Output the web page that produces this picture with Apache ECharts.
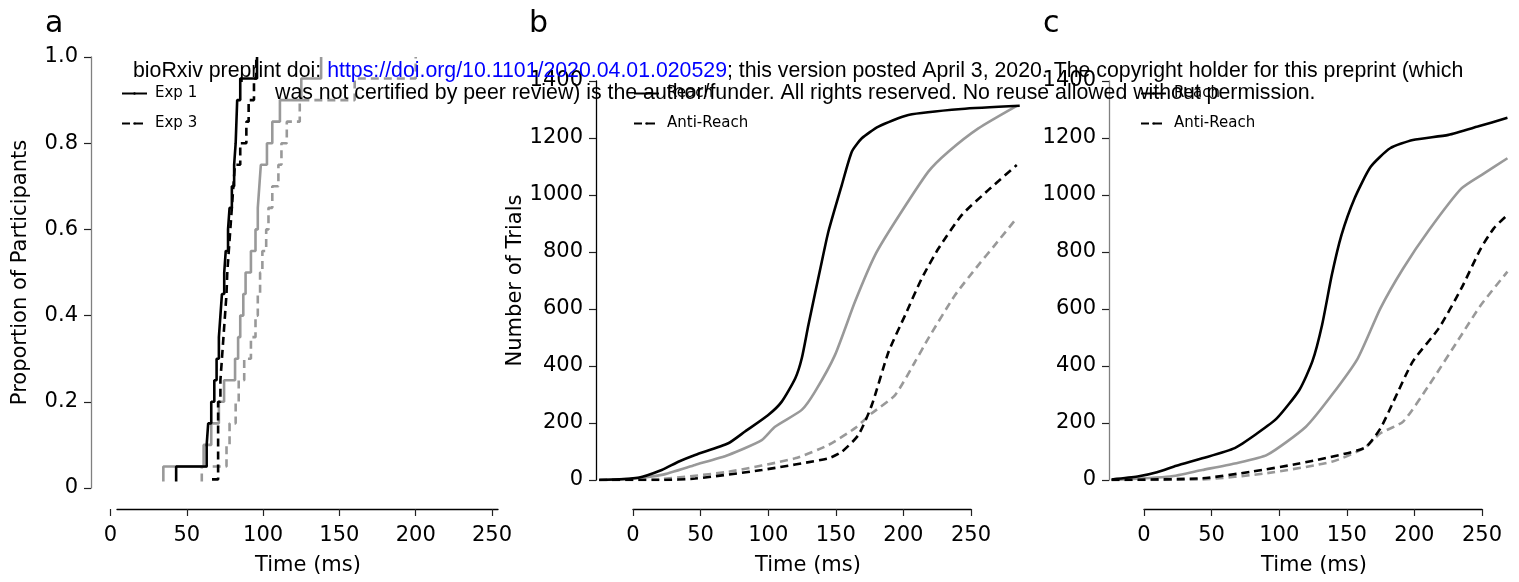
<!DOCTYPE html>
<html>
<head>
<meta charset="utf-8">
<script src="https://cdn.jsdelivr.net/npm/echarts@6.0.0/dist/echarts.min.js"></script>
<style>
html, body { margin: 0; padding: 0; background: #fff; }
#main { width: 1519px; height: 582px; }
</style>
</head>
<body>
<div id="main"></div>
<script>
// panel a: proportion of participants, [time (ms), proportion]
var exp1Black = [[43, 0.015], [43, 0.05], [63, 0.10], [64, 0.15], [66, 0.20], [68, 0.25], [69.5, 0.30], [71, 0.35], [72, 0.40], [73, 0.45], [74.5, 0.50], [75.5, 0.55], [77, 0.60], [78, 0.65], [79.5, 0.70], [81, 0.75], [82, 0.80], [82.5, 0.85], [83, 0.90], [85, 0.95], [96, 1.0]]
var exp3Black = [[66.5, 0.02], [70.5, 0.05], [70.5, 0.20], [72, 0.25], [73, 0.30], [74, 0.35], [75, 0.40], [76, 0.45], [76.5, 0.50], [77.5, 0.55], [78.5, 0.60], [79.5, 0.65], [80.5, 0.70], [81.5, 0.75], [85, 0.80], [89, 0.85], [90.5, 0.90], [94, 0.95], [95.5, 1.0]]
var exp1Gray = [[34.6, 0.015], [34.6, 0.05], [61, 0.10], [66, 0.15], [71, 0.20], [74.4, 0.25], [81.6, 0.30], [83.6, 0.35], [85, 0.40], [87, 0.45], [88.5, 0.50], [92, 0.55], [95, 0.60], [96.5, 0.65], [97.5, 0.70], [98.5, 0.75], [102.5, 0.80], [106, 0.85], [111, 0.90], [125, 0.95], [138, 1.0]]
var exp3Gray = [[59.8, 0.015], [59.8, 0.05], [76, 0.10], [78, 0.15], [82, 0.20], [84, 0.25], [87.6, 0.30], [92, 0.35], [95, 0.40], [96.5, 0.45], [98, 0.50], [99.5, 0.55], [102, 0.60], [103.5, 0.65], [106, 0.70], [110, 0.75], [112, 0.80], [115.5, 0.85], [124, 0.90], [160, 0.95], [200, 1.0]]

// panel b: number of trials, [time (ms), trials]
var bReachBlack = [[-25, 0], [3.9, 8], [21.2, 35], [33.5, 64], [45.9, 88], [70.5, 129], [82.8, 170], [100, 228], [110, 275], [120, 357], [124.8, 427], [129.7, 544], [139.6, 766], [144.5, 872], [154.4, 1035], [161.8, 1152], [169.2, 1199], [181.5, 1240], [203.6, 1281], [243, 1302], [286, 1313]]
var bReachGray = [[-25, 0], [-3.5, 4], [21.2, 18], [45.9, 53], [70.5, 88], [95.2, 140], [105, 187], [124.8, 246], [134.6, 310], [149.4, 439], [164.2, 626], [179, 789], [193.8, 906], [218.4, 1082], [233.2, 1152], [255.4, 1234], [283.8, 1313]]
var bAntiBlack = [[-25, 0], [21.2, 0], [45.9, 5], [95.2, 35], [144.5, 76], [154.4, 99], [166.7, 158], [176.6, 263], [189, 450], [201.3, 579], [213.6, 708], [226, 813], [243.2, 930], [262.9, 1018], [283.8, 1105]]
var bAntiGray = [[-25, 0], [21.2, 4], [70.5, 29], [119.8, 76], [144.5, 123], [164.2, 182], [176.6, 234], [193.8, 298], [208.6, 415], [218.4, 497], [238.2, 649], [255.4, 754], [267.7, 825], [283.8, 919]]

// panel c
var cReachBlack = [[-23.9, 2], [-4.2, 12], [10.6, 27], [25.4, 50], [45.1, 76], [69.8, 112], [87, 164], [101.8, 216], [119, 316], [128.9, 416], [136.3, 544], [143.7, 719], [151.1, 860], [161, 988], [173.3, 1099], [188.1, 1164], [205.4, 1193], [232.5, 1211], [254.7, 1240], [277.4, 1271]]
var cReachGray = [[-23.9, 0], [20.5, 12], [45.1, 35], [69.8, 58], [94.4, 88], [124, 187], [143.7, 298], [163.5, 427], [180.7, 602], [198, 742], [217.7, 877], [242.4, 1023], [259.6, 1076], [277.4, 1129]]
var cAntiBlack = [[-23.9, 0], [45.1, 6], [82.1, 29], [119, 58], [168.4, 112], [180.7, 181], [190.6, 275], [205.4, 416], [225.1, 532], [242.4, 673], [257.2, 813], [267, 883], [277.4, 930]]
var cAntiGray = [[-23.9, 0], [45.1, 2], [94.4, 24], [143.7, 64], [168.4, 112], [180.7, 164], [198, 205], [217.7, 333], [242.4, 509], [257.2, 614], [277.4, 731]]

var timeTicks = [0, 50, 100, 150, 200, 250]

var FONT = 'DejaVu Sans'
var GRAY = '#999999'
// legend icons: solid bar and "- -"
var SOLID_ICON = 'path://M0,0h25v3h-25z'
var DASH_ICON = 'path://M0,0h8v3h-8z M16,0h9v3h-9z'

var myChart = echarts.init(document.getElementById('main'))

function yAxisOf(grid, max, interval, lineColor, name, gap, fmt) {
  return {
    gridIndex: grid, type: 'value', min: 0, max: max, interval: interval,
    name: name, nameLocation: 'middle', nameGap: gap,
    nameTextStyle: { fontFamily: FONT, fontSize: 21, color: '#000' },
    axisLine: { show: true, onZero: false, lineStyle: { color: lineColor, width: 1.3 } },
    axisTick: { show: true, length: 7, lineStyle: { color: '#222', width: 1.2 } },
    axisLabel: { fontFamily: FONT, fontSize: 21, color: '#000', margin: 13, formatter: fmt },
    splitLine: { show: false }
  }
}
function hiddenY(grid) {
  return { gridIndex: grid, type: 'value', show: false }
}
// x axis of a data grid: only carries the axis title
function dataX(grid, min, max, gap) {
  return {
    gridIndex: grid, type: 'value', min: min, max: max,
    name: 'Time (ms)', nameLocation: 'middle', nameGap: gap,
    nameTextStyle: { fontFamily: FONT, fontSize: 21, color: '#000' },
    axisLine: { show: false, onZero: false }, axisTick: { show: false }, axisLabel: { show: false }, splitLine: { show: false }
  }
}
// offset x axis with ticks 0..250
function tickX(grid, showLine) {
  return {
    gridIndex: grid, type: 'value', min: 0, max: 250, interval: 50,
    axisLine: { show: showLine, onZero: false, lineStyle: { color: '#000', width: 1.3 } },
    axisTick: { show: true, length: 7, lineStyle: { color: '#222', width: 1.2 } },
    axisLabel: { fontFamily: FONT, fontSize: 21, color: '#000', margin: 16,
      formatter: function (v) { return timeTicks.indexOf(v) >= 0 ? String(v) : '' } },
    splitLine: { show: false }
  }
}
function lineOnlyX(grid) {
  return {
    gridIndex: grid, type: 'value', min: 0, max: 1,
    axisLine: { show: true, onZero: false, lineStyle: { color: '#000', width: 1.3 } },
    axisTick: { show: false }, axisLabel: { show: false }, splitLine: { show: false }
  }
}
function line(name, grid, data, color, dashed, step) {
  return {
    name: name, type: 'line', xAxisIndex: grid, yAxisIndex: grid, data: data,
    symbol: 'none', step: step ? 'end' : false, smooth: step ? false : 0.2,
    legendIcon: dashed ? DASH_ICON : SOLID_ICON,
    lineStyle: { color: color, width: 2.6, type: dashed ? [8, 5] : 'solid' },
    itemStyle: { color: color }
  }
}
function legendAt(left, names) {
  return {
    data: names, left: left, top: 81, orient: 'vertical', itemWidth: 25, itemHeight: 3,
    itemGap: 15, selectedMode: false,
    textStyle: { fontFamily: FONT, fontSize: 15, color: '#000', padding: [0, 0, 0, 3] }
  }
}
function label(text, left) {
  return { text: text, left: left, top: 9, padding: 0,
    textStyle: { fontFamily: FONT, fontSize: 30, fontWeight: 'normal', color: '#000', lineHeight: 30 } }
}

var wmStyle = { fontFamily: 'Liberation Sans', fontSize: 21.3, fontWeight: 'normal', color: '#000', lineHeight: 21 }

myChart.setOption({
  animation: false,
  title: [
    label('a', 45), label('b', 529), label('c', 1043),
    {
      text: '{k|bioRxiv preprint doi: }{u|https://doi.org/10.1101/2020.04.01.020529}{k|; this version posted April 3, 2020. The copyright holder for this preprint (which}',
      left: 133, top: 61, padding: 0, z: 10,
      textStyle: { rich: { k: wmStyle, u: Object.assign({}, wmStyle, { color: '#0000ff' }) } }
    },
    {
      text: 'was not certified by peer review) is the author/funder. All rights reserved. No reuse allowed without permission.',
      left: 275, top: 83, padding: 0, z: 10, textStyle: wmStyle
    }
  ],
  legend: [
    legendAt(116, ['Exp 1', 'Exp 3']),
    legendAt(628, ['Reach', 'Anti-Reach']),
    legendAt(1135, ['Reach', 'Anti-Reach'])
  ],
  grid: [
    { left: 91, top: 57, width: 434, height: 431 },
    { left: 110.5, top: 508, width: 381.5, height: 1 },
    { left: 117, top: 508, width: 381, height: 1 },
    { left: 596, top: 81, width: 424, height: 399 },
    { left: 633, top: 508, width: 338, height: 1 },
    { left: 1109, top: 81, width: 422, height: 399 },
    { left: 1144, top: 508, width: 338, height: 1 }
  ],
  xAxis: [
    dataX(0, -12.8, 271.6, 67),
    tickX(1, false),
    lineOnlyX(2),
    dataX(3, -27.4, 286.2, 75),
    tickX(4, true),
    dataX(5, -25.9, 286.2, 75),
    tickX(6, true)
  ],
  yAxis: [
    yAxisOf(0, 1, 0.2, '#808080', 'Proportion of Participants', 60,
      function (v) { return v === 0 ? '0' : v.toFixed(1) }),
    hiddenY(1), hiddenY(2),
    yAxisOf(3, 1400, 200, '#000', 'Number of Trials', 60, function (v) { return String(v) }),
    hiddenY(4),
    yAxisOf(5, 1400, 200, '#808080', '', 0, function (v) { return String(v) }),
    hiddenY(6)
  ],
  series: [
    line('Exp 1 gray', 0, exp1Gray, GRAY, false, true),
    line('Exp 3 gray', 0, exp3Gray, GRAY, true, true),
    line('Exp 1', 0, exp1Black, '#000', false, true),
    line('Exp 3', 0, exp3Black, '#000', true, true),

    line('Reach gray', 3, bReachGray, GRAY, false),
    line('Anti-Reach gray', 3, bAntiGray, GRAY, true),
    line('Reach', 3, bReachBlack, '#000', false),
    line('Anti-Reach', 3, bAntiBlack, '#000', true),

    line('Reach gray', 5, cReachGray, GRAY, false),
    line('Anti-Reach gray', 5, cAntiGray, GRAY, true),
    line('Reach', 5, cReachBlack, '#000', false),
    line('Anti-Reach', 5, cAntiBlack, '#000', true)
  ]
})
</script>
</body>
</html>
